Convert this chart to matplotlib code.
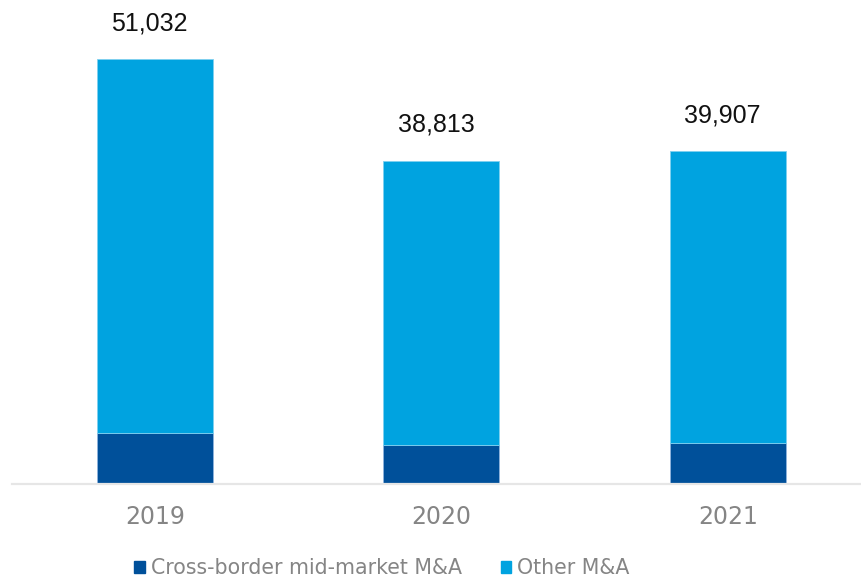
import matplotlib
matplotlib.use("Agg")
import matplotlib.pyplot as plt
from matplotlib.patches import Patch

plt.rcParams['font.family'] = ['DejaVu Sans']

# data
years = ['2019', '2020', '2021']
totals = [51032, 38813, 39907]
cross_border = [6040, 4640, 4810]
other = [t - c for t, c in zip(totals, cross_border)]

dark = '#00509a'
light = '#00a3e0'

fig = plt.figure(figsize=(8.62, 5.79), dpi=100)
ax = fig.add_axes([12 / 862, 95.5 / 579, 850 / 862, 483.5 / 579])

x = list(range(len(years)))
ax.bar(x, cross_border, width=0.405, color=dark, edgecolor='#8fb4dd', linewidth=0.6)
ax.bar(x, other, width=0.405, bottom=cross_border, color=light, edgecolor='#7fd0f0', linewidth=0.6)

# totals above bars
for xi, t in zip(x, totals):
    ax.annotate(f'{t:,}', (xi, t), xytext=(-4, 17), textcoords='offset points',
                ha='center', va='bottom', fontsize=18, family='Liberation Sans', color='#111111')

ax.set_xlim(-0.499, 2.468)
ax.set_ylim(0, 58100)
ax.set_xticks(x)
ax.set_xticklabels(years, fontsize=17, color='#858585', family='DejaVu Sans')
ax.tick_params(axis='x', length=0, pad=15.5)
ax.set_yticks([])
for s in ['top', 'right', 'left']:
    ax.spines[s].set_visible(False)
ax.spines['bottom'].set_color('#e6e6e6')
ax.spines['bottom'].set_linewidth(1.6)

handles = [Patch(color=dark, label='Cross-border mid-market M&A'),
           Patch(color=light, label='Other M&A')]
leg = fig.legend(handles=handles, loc='center', bbox_to_anchor=(382 / 862, 1 - 568 / 579),
                 ncol=2, frameon=False, fontsize=14.8, handlelength=0.5, handleheight=0.5,
                 handletextpad=0.3, columnspacing=1.9, borderaxespad=0, borderpad=0)
for t in leg.get_texts():
    t.set_color('#858585')

fig.savefig('out.png', dpi=100)
